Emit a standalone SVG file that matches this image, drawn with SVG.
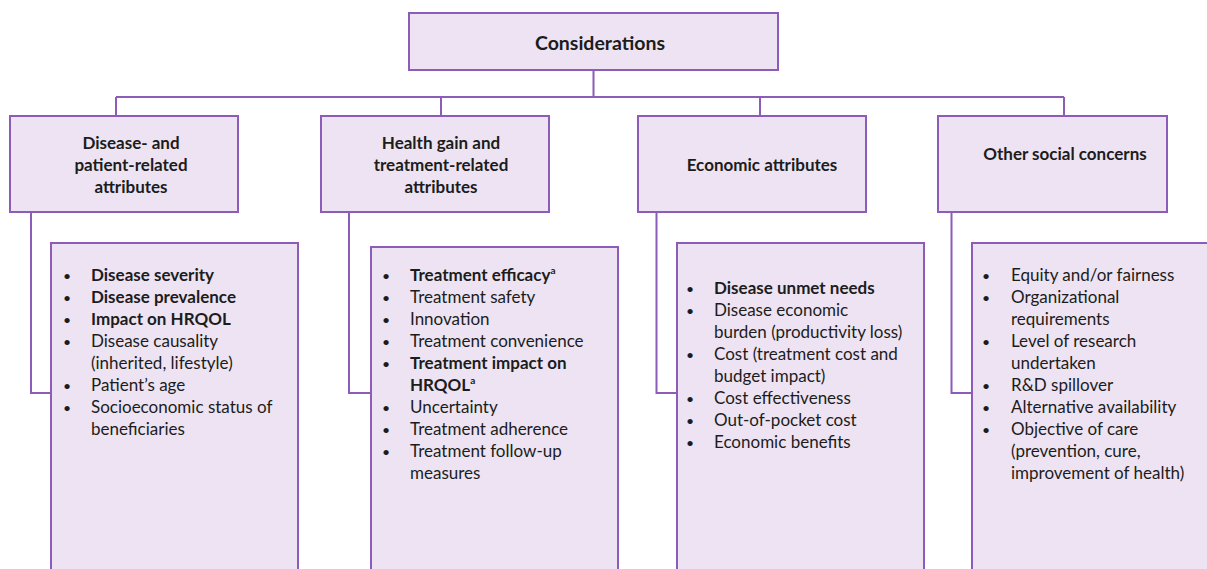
<svg xmlns="http://www.w3.org/2000/svg" width="1207" height="569" viewBox="0 0 1207 569">
  <style>
    .box { fill: #ede3f2; stroke: #8c5cb8; stroke-width: 2; }
    .wire { fill: none; stroke: #8c5cb8; stroke-width: 2; }
    text { font-family: Lato, "Open Sans", "Liberation Sans", sans-serif; fill: #1c1c1c; font-size: 17px; }
    .hd { font-weight: bold; text-anchor: middle; }
    .title { font-size: 19.5px; }
    .b { font-weight: bold; }
    .dot { font-size: 14px; }
    .sup { font-size: 10px; }
  </style>

  <!-- connectors -->
  <g id="connectors">
    <path class="wire" d="M593.5 70 V97 M116 97 H1064 M116 97 V116 M441 97 V116 M760 97 V116 M1064 97 V116"/>
    <path class="wire" d="M31 212 V393 H51"/>
    <path class="wire" d="M349 212 V393 H371"/>
    <path class="wire" d="M656.5 212 V393 H677"/>
    <path class="wire" d="M951.5 212 V393 H972"/>
  </g>

  <!-- root -->
  <g id="considerations">
    <rect class="box" x="409" y="13" width="369" height="57"/>
    <text class="hd title" x="600" y="50">Considerations</text>
  </g>

  <!-- category headers -->
  <g id="cat-disease">
    <rect class="box" x="10" y="116" width="228" height="96"/>
    <text class="hd" x="131" y="149">Disease- and</text>
    <text class="hd" x="131" y="171">patient-related</text>
    <text class="hd" x="131" y="193">attributes</text>
  </g>
  <g id="cat-health">
    <rect class="box" x="321" y="116" width="228" height="96"/>
    <text class="hd" x="441" y="149">Health gain and</text>
    <text class="hd" x="441" y="171">treatment-related</text>
    <text class="hd" x="441" y="193">attributes</text>
  </g>
  <g id="cat-economic">
    <rect class="box" x="638" y="116" width="228" height="96"/>
    <text class="hd" x="762" y="171">Economic attributes</text>
  </g>
  <g id="cat-social">
    <rect class="box" x="938" y="116" width="229" height="96"/>
    <text class="hd" x="1065" y="160">Other social concerns</text>
  </g>

  <!-- attribute lists -->
  <g id="list-disease">
    <rect class="box" x="51" y="243" width="247" height="340"/>
    <g>
      <text class="dot" x="63" y="280.5">•</text><text class="b" x="91" y="281">Disease severity</text>
      <text class="dot" x="63" y="302.5">•</text><text class="b" x="91" y="303">Disease prevalence</text>
      <text class="dot" x="63" y="324.5">•</text><text class="b" x="91" y="325">Impact on HRQOL</text>
      <text class="dot" x="63" y="346.5">•</text><text x="91" y="347">Disease causality</text>
      <text x="91" y="369">(inherited, lifestyle)</text>
      <text class="dot" x="63" y="390.5">•</text><text x="91" y="391">Patient’s age</text>
      <text class="dot" x="63" y="412.5">•</text><text x="91" y="413">Socioeconomic status of</text>
      <text x="91" y="435">beneficiaries</text>
    </g>
  </g>

  <g id="list-health">
    <rect class="box" x="371" y="247" width="247" height="340"/>
    <g>
      <text class="dot" x="382" y="280.5">•</text><text class="b" x="410" y="281">Treatment efficacy<tspan class="sup" dy="-7">a</tspan></text>
      <text class="dot" x="382" y="302.5">•</text><text x="410" y="303">Treatment safety</text>
      <text class="dot" x="382" y="324.5">•</text><text x="410" y="325">Innovation</text>
      <text class="dot" x="382" y="346.5">•</text><text x="410" y="347">Treatment convenience</text>
      <text class="dot" x="382" y="368.5">•</text><text class="b" x="410" y="369">Treatment impact on</text>
      <text class="b" x="410" y="391">HRQOL<tspan class="sup" dy="-7">a</tspan></text>
      <text class="dot" x="382" y="412.5">•</text><text x="410" y="413">Uncertainty</text>
      <text class="dot" x="382" y="434.5">•</text><text x="410" y="435">Treatment adherence</text>
      <text class="dot" x="382" y="456.5">•</text><text x="410" y="457">Treatment follow-up</text>
      <text x="410" y="479">measures</text>
    </g>
  </g>

  <g id="list-economic">
    <rect class="box" x="677" y="243" width="247" height="340"/>
    <g>
      <text class="dot" x="686" y="293.5">•</text><text class="b" x="714" y="294">Disease unmet needs</text>
      <text class="dot" x="686" y="315.5">•</text><text x="714" y="316">Disease economic</text>
      <text x="714" y="338">burden (productivity loss)</text>
      <text class="dot" x="686" y="359.5">•</text><text x="714" y="360">Cost (treatment cost and</text>
      <text x="714" y="382">budget impact)</text>
      <text class="dot" x="686" y="403.5">•</text><text x="714" y="404">Cost effectiveness</text>
      <text class="dot" x="686" y="425.5">•</text><text x="714" y="426">Out-of-pocket cost</text>
      <text class="dot" x="686" y="447.5">•</text><text x="714" y="448">Economic benefits</text>
    </g>
  </g>

  <g id="list-social">
    <rect class="box" x="972" y="243" width="247" height="340"/>
    <g>
      <text class="dot" x="982" y="280.5">•</text><text x="1011" y="281">Equity and/or fairness</text>
      <text class="dot" x="982" y="302.5">•</text><text x="1011" y="303">Organizational</text>
      <text x="1011" y="325">requirements</text>
      <text class="dot" x="982" y="346.5">•</text><text x="1011" y="347">Level of research</text>
      <text x="1011" y="369">undertaken</text>
      <text class="dot" x="982" y="390.5">•</text><text x="1011" y="391">R&amp;D spillover</text>
      <text class="dot" x="982" y="412.5">•</text><text x="1011" y="413">Alternative availability</text>
      <text class="dot" x="982" y="434.5">•</text><text x="1011" y="435">Objective of care</text>
      <text x="1011" y="457">(prevention, cure,</text>
      <text x="1011" y="479">improvement of health)</text>
    </g>
  </g>
</svg>
